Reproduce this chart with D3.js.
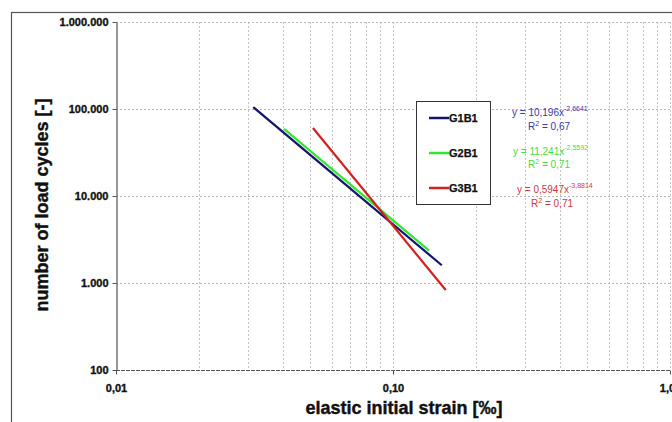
<!DOCTYPE html>
<html><head><meta charset="utf-8">
<script src="https://cdn.jsdelivr.net/npm/d3@7"></script>
<style>
html,body{margin:0;padding:0;background:#fff;}
svg{display:block;}
</style>
</head><body>
<svg id="chart" width="672" height="422"></svg>
<script>
// ---- data ----
const seriesNames = ["G1B1", "G2B1", "G3B1"];
const seriesColors = ["#14146e", "#2ee82e", "#d42020"];
// trend line endpoints (x = strain ‰, y = load cycles)
const g1b1X = [0.0313, 0.150];
const g1b1Y = [105000, 1600];
const g2b1X = [0.0404, 0.135];
const g2b1Y = [59000, 2350];
const g3b1X = [0.0514, 0.155];
const g3b1Y = [60500, 830];
const equations = ["y = 10,196x", "y = 11,241x", "y = 0,5947x"];
const exponents = ["-2,6641", "-2,5592", "-3,8814"];
const rSquared = ["0,67", "0,71", "0,71"];
const xTickValues = [0.01, 0.1, 1];
const xTickLabels = ["0,01", "0,10", "1,00"];
const yTickValues = [100, 1000, 10000, 100000, 1000000];
const yTickLabels = ["100", "1.000", "10.000", "100.000", "1.000.000"];
const xTitle = "elastic initial strain [‰]";
const yTitle = "number of load cycles [-]";

const series = [
  {name: seriesNames[0], x: g1b1X, y: g1b1Y},
  {name: seriesNames[1], x: g2b1X, y: g2b1Y},
  {name: seriesNames[2], x: g3b1X, y: g3b1Y}
];

const FONT = "Liberation Sans, Arial, sans-serif";
const svg = d3.select("#chart");
const x = d3.scaleLog().domain([0.01, 1]).range([116, 670]);
const y = d3.scaleLog().domain([100, 1000000]).range([370, 22]);

// outer chart frame (extends beyond the photo)
svg.append("rect").attr("x", 11.5).attr("y", 12.5).attr("width", 700).attr("height", 450)
  .attr("fill", "#fff").attr("stroke", "#555").attr("stroke-width", 1.2);

// vertical minor gridlines
const vGrid = [];
for (let d = 0.01; d < 1.5; d *= 10) for (let k = 1; k <= 9; k++) { const v = d * k; if (v > 0.0101 && v <= 1.0001) vGrid.push(v); }
svg.append("g").selectAll("line").data(vGrid).join("line")
  .attr("x1", d => Math.round(x(d)) + 0.5).attr("x2", d => Math.round(x(d)) + 0.5)
  .attr("y1", y(1000000)).attr("y2", y(100))
  .attr("stroke", "#c4c4c4").attr("stroke-width", 1).attr("stroke-dasharray", "2,2");

// horizontal gridlines (decades)
svg.append("g").selectAll("line").data(yTickValues.slice(1)).join("line")
  .attr("x1", x(0.01)).attr("x2", x(1))
  .attr("y1", d => Math.round(y(d)) + 0.5).attr("y2", d => Math.round(y(d)) + 0.5)
  .attr("stroke", "#b4b4b4").attr("stroke-width", 1).attr("stroke-dasharray", "2,2");

// bottom axis line
svg.append("line").attr("x1", x(0.01)).attr("x2", x(1)).attr("y1", Math.round(y(100)) + 0.5).attr("y2", Math.round(y(100)) + 0.5)
  .attr("stroke", "#555").attr("stroke-width", 1.2).attr("stroke-dasharray", "4,1");

// axes
const fmtX = d => xTickLabels[xTickValues.indexOf(d)];
const fmtY = d => yTickLabels[yTickValues.indexOf(d)];
const xAxis = svg.append("g").attr("transform", `translate(0,${Math.round(y(100)) + 0.5})`)
  .call(d3.axisBottom(x).tickValues(xTickValues).tickFormat(fmtX).tickSize(4).tickSizeOuter(0));
xAxis.select(".domain").remove();
xAxis.selectAll(".tick line").attr("stroke", "#555");
xAxis.selectAll("text").attr("font-family", FONT).attr("font-weight", "bold")
  .attr("font-size", 11).attr("fill", "#111").attr("stroke", "#111").attr("stroke-width", 0.35)
  .attr("dy", "1.3em");

const yAxis = svg.append("g").attr("transform", `translate(${Math.round(x(0.01)) + 0.5},0)`)
  .call(d3.axisLeft(y).tickValues(yTickValues).tickFormat(fmtY).tickSize(4).tickSizeOuter(0));
yAxis.select(".domain").attr("stroke", "#555").attr("stroke-width", 1.2);
yAxis.selectAll(".tick line").attr("stroke", "#555");
yAxis.selectAll("text").attr("font-family", FONT).attr("font-weight", "bold")
  .attr("font-size", 11).attr("fill", "#111").attr("stroke", "#111").attr("stroke-width", 0.35)
  .attr("x", -8);

// series lines
const line = d3.line().x(d => x(d[0])).y(d => y(d[1]));
svg.append("g").selectAll("path").data(series).join("path")
  .attr("d", s => line(s.x.map((v, i) => [v, s.y[i]])))
  .attr("fill", "none").attr("stroke", (s, i) => seriesColors[i]).attr("stroke-width", 2.2);

// legend
const lg = svg.append("g");
lg.append("rect").attr("x", 416.5).attr("y", 101.5).attr("width", 74).attr("height", 103)
  .attr("fill", "#fff").attr("stroke", "#333").attr("stroke-width", 1);
const legY = [118, 153, 188];
seriesNames.forEach((n, i) => {
  lg.append("line").attr("x1", 429).attr("x2", 449).attr("y1", legY[i]).attr("y2", legY[i])
    .attr("stroke", seriesColors[i]).attr("stroke-width", 2.5);
  lg.append("text").attr("x", 449).attr("y", legY[i] + 4).text(n)
    .attr("font-family", FONT).attr("font-weight", "bold")
    .attr("font-size", 11).attr("fill", "#111").attr("stroke", "#111").attr("stroke-width", 0.25);
});

// equations
const eqColors = ["#3a3aa8", "#44dd44", "#cc3a3a"];
const eqX = [512, 513, 517];
const eqY = [116, 155, 193];
const rX = [528, 528, 531];
const rY = [130, 168, 207];
equations.forEach((e, i) => {
  const t = svg.append("text").attr("x", eqX[i]).attr("y", eqY[i])
    .attr("font-family", FONT).attr("font-size", 10).attr("fill", eqColors[i]);
  t.append("tspan").text(e);
  t.append("tspan").attr("font-size", 7).attr("dy", -5).text(exponents[i]);
  const r = svg.append("text").attr("x", rX[i]).attr("y", rY[i])
    .attr("font-family", FONT).attr("font-size", 10).attr("fill", eqColors[i]);
  r.append("tspan").text("R");
  r.append("tspan").attr("font-size", 7).attr("dy", -4).text("2");
  r.append("tspan").attr("dy", 4).text(" = " + rSquared[i]);
});

// axis titles
svg.append("text").attr("x", 404).attr("y", 414).attr("text-anchor", "middle").text(xTitle)
  .attr("font-family", FONT).attr("font-weight", "bold")
  .attr("font-size", 18).attr("fill", "#111").attr("stroke", "#111").attr("stroke-width", 0.4);
svg.append("text").attr("transform", "translate(48,205) rotate(-90)").attr("text-anchor", "middle").text(yTitle)
  .attr("font-family", FONT).attr("font-weight", "bold")
  .attr("font-size", 18).attr("fill", "#111").attr("stroke", "#111").attr("stroke-width", 0.4);
</script>
</body></html>
